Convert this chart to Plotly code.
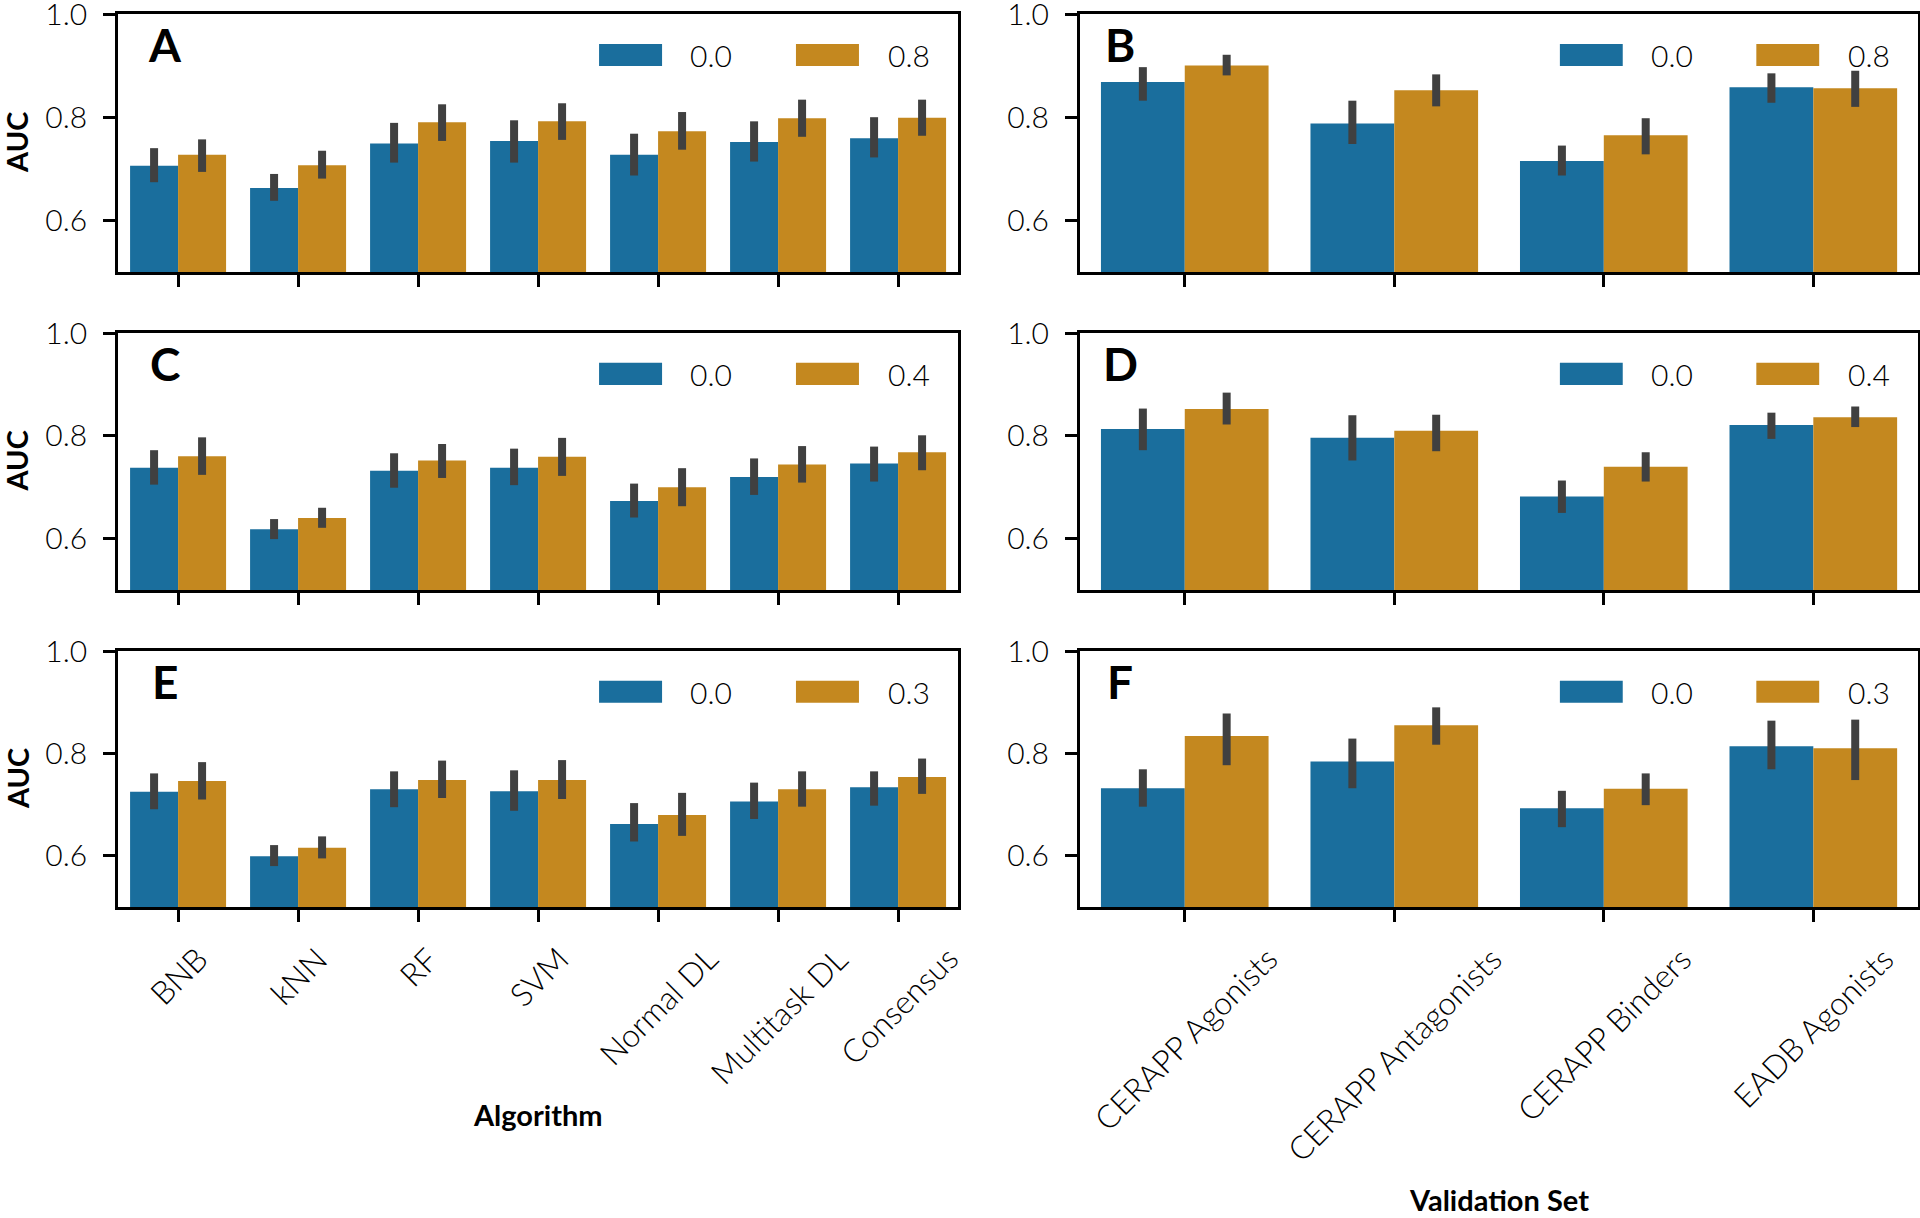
import plotly.graph_objects as go

# ---------------- data ----------------
algorithms = ["BNB", "kNN", "RF", "SVM", "Normal DL", "Multitask DL", "Consensus"]
validation_sets = ["CERAPP Agonists", "CERAPP Antagonists", "CERAPP Binders", "EADB Agonists"]

# Panel A (0.0 vs 0.8) - by algorithm
a_base = [0.706, 0.663, 0.749, 0.754, 0.727, 0.752, 0.759]
a_base_lo = [0.674, 0.638, 0.712, 0.712, 0.687, 0.714, 0.722]
a_base_hi = [0.740, 0.690, 0.789, 0.794, 0.768, 0.792, 0.800]
a_alt = [0.727, 0.707, 0.790, 0.792, 0.773, 0.798, 0.799]
a_alt_lo = [0.694, 0.681, 0.754, 0.756, 0.737, 0.762, 0.764]
a_alt_hi = [0.757, 0.735, 0.825, 0.827, 0.810, 0.834, 0.834]

# Panel B (0.0 vs 0.8) - by validation set
b_base = [0.868, 0.788, 0.715, 0.858]
b_base_lo = [0.832, 0.748, 0.687, 0.828]
b_base_hi = [0.897, 0.832, 0.745, 0.885]
b_alt = [0.900, 0.852, 0.765, 0.856]
b_alt_lo = [0.881, 0.821, 0.728, 0.820]
b_alt_hi = [0.921, 0.883, 0.798, 0.890]

# Panel C (0.0 vs 0.4) - by algorithm
c_base = [0.738, 0.618, 0.732, 0.738, 0.673, 0.720, 0.746]
c_base_lo = [0.705, 0.599, 0.699, 0.704, 0.641, 0.685, 0.711]
c_base_hi = [0.772, 0.638, 0.766, 0.775, 0.707, 0.756, 0.779]
c_alt = [0.760, 0.640, 0.752, 0.759, 0.700, 0.744, 0.768]
c_alt_lo = [0.724, 0.621, 0.718, 0.722, 0.663, 0.709, 0.733]
c_alt_hi = [0.797, 0.660, 0.784, 0.796, 0.737, 0.780, 0.801]

# Panel D (0.0 vs 0.4) - by validation set
d_base = [0.813, 0.796, 0.682, 0.821]
d_base_lo = [0.772, 0.752, 0.650, 0.794]
d_base_hi = [0.853, 0.840, 0.713, 0.845]
d_alt = [0.852, 0.810, 0.740, 0.836]
d_alt_lo = [0.822, 0.770, 0.711, 0.817]
d_alt_hi = [0.884, 0.841, 0.768, 0.857]

# Panel E (0.0 vs 0.3) - by algorithm
e_base = [0.725, 0.599, 0.730, 0.726, 0.662, 0.706, 0.734]
e_base_lo = [0.691, 0.580, 0.695, 0.688, 0.628, 0.672, 0.698]
e_base_hi = [0.761, 0.621, 0.765, 0.767, 0.703, 0.743, 0.765]
e_alt = [0.746, 0.616, 0.748, 0.748, 0.680, 0.730, 0.754]
e_alt_lo = [0.710, 0.595, 0.713, 0.711, 0.639, 0.696, 0.721]
e_alt_hi = [0.783, 0.638, 0.786, 0.787, 0.723, 0.765, 0.790]

# Panel F (0.0 vs 0.3) - by validation set
f_base = [0.732, 0.784, 0.693, 0.814]
f_base_lo = [0.696, 0.732, 0.656, 0.769]
f_base_hi = [0.769, 0.829, 0.727, 0.864]
f_alt = [0.834, 0.855, 0.731, 0.810]
f_alt_lo = [0.777, 0.817, 0.699, 0.748]
f_alt_hi = [0.878, 0.890, 0.761, 0.866]

panel_letters = ["A", "B", "C", "D", "E", "F"]
base_label = "0.0"
alt_labels = ["0.8", "0.8", "0.4", "0.4", "0.3", "0.3"]
y_ticks = [0.6, 0.8, 1.0]
y_tick_text = ["0.6", "0.8", "1.0"]
y_title = "AUC"
x_titles = ["Algorithm", "Validation Set"]

# ---------------- style ----------------
BLUE = "#1A6E9D"
ORANGE = "#C4881F"
ERR = "#404040"
FONT = "Lato"

col_dom = [[0.0615, 0.499], [0.5625, 0.999]]
row_dom = [[0.7767, 0.9885], [0.5156, 0.7266], [0.2553, 0.4655]]

panels = [
    (algorithms, a_base, a_base_lo, a_base_hi, a_alt, a_alt_lo, a_alt_hi),
    (validation_sets, b_base, b_base_lo, b_base_hi, b_alt, b_alt_lo, b_alt_hi),
    (algorithms, c_base, c_base_lo, c_base_hi, c_alt, c_alt_lo, c_alt_hi),
    (validation_sets, d_base, d_base_lo, d_base_hi, d_alt, d_alt_lo, d_alt_hi),
    (algorithms, e_base, e_base_lo, e_base_hi, e_alt, e_alt_lo, e_alt_hi),
    (validation_sets, f_base, f_base_lo, f_base_hi, f_alt, f_alt_lo, f_alt_hi),
]

fig = go.Figure()
layout = dict(
    width=1920, height=1218,
    margin=dict(l=0, r=0, t=0, b=0, autoexpand=False),
    paper_bgcolor="white", plot_bgcolor="white",
    barmode="group", bargap=0.2, bargroupgap=0.0,
    showlegend=False,
    font=dict(family=FONT, color="black"),
)
shapes = []
annotations = []

for i, (cats, bm, blo, bhi, am, alo, ahi) in enumerate(panels):
    r, c = divmod(i, 2)
    n = i + 1
    xa = "x" if n == 1 else f"x{n}"
    ya = "y" if n == 1 else f"y{n}"
    for vals, lo, hi, color in ((bm, blo, bhi, BLUE), (am, alo, ahi, ORANGE)):
        fig.add_trace(go.Bar(
            x=cats, y=vals, marker=dict(color=color, line=dict(width=0)),
            error_y=dict(type="data", symmetric=False,
                         array=[h - v for h, v in zip(hi, vals)],
                         arrayminus=[v - l for v, l in zip(vals, lo)],
                         thickness=8, width=0, color=ERR),
            xaxis=xa, yaxis=ya, showlegend=False,
        ))
    axis_common = dict(showline=True, linewidth=3, linecolor="black", mirror=True,
                       ticks="outside", ticklen=12, tickwidth=2.5, tickcolor="black",
                       showgrid=False, zeroline=False, automargin=False)
    layout["xaxis" if n == 1 else f"xaxis{n}"] = dict(
        domain=col_dom[c], anchor=ya, type="category",
        categoryorder="array", categoryarray=cats,
        range=[-0.5, len(cats) - 0.5], showticklabels=False, **axis_common)
    layout["yaxis" if n == 1 else f"yaxis{n}"] = dict(
        domain=row_dom[r], anchor=xa, range=[0.5, 1.0],
        tickvals=y_ticks, ticktext=y_tick_text, ticklabelstandoff=10,
        ticklabeloverflow="allow",
        tickfont=dict(family=FONT, size=30, color="black", weight=300),
        **axis_common)

    xd = f"{xa} domain"
    yd = f"{ya} domain"
    # panel letter
    annotations.append(dict(text=f"<b>{panel_letters[i]}</b>", xref=xd, yref=yd,
                            x=0.056 if c == 0 else 0.048, y=0.88,
                            xanchor="center", yanchor="middle", showarrow=False,
                            font=dict(family=FONT, size=46, color="black")))
    # legend
    for (x0, x1, tx, color, lab) in ((0.5726, 0.6476, 0.679, BLUE, base_label),
                                     (0.807, 0.882, 0.914, ORANGE, alt_labels[i])):
        shapes.append(dict(type="rect", xref=xd, yref=yd, x0=x0, x1=x1,
                           y0=0.798, y1=0.884, fillcolor=color,
                           line=dict(width=0), layer="above"))
        annotations.append(dict(text=lab, xref=xd, yref=yd, x=tx, y=0.841,
                                xanchor="left", yanchor="middle", showarrow=False,
                                font=dict(family=FONT, size=30, color="black", weight=300)))
    # y title on left column
    if c == 0:
        annotations.append(dict(text=f"<b>{y_title}</b>", xref="paper", yref=yd,
                                x=17 / 1920, y=0.5, xanchor="center", yanchor="middle",
                                textangle=-90, showarrow=False,
                                font=dict(family=FONT, size=29, color="black")))
    # x tick labels on bottom row
    if r == 2:
        for cat in cats:
            annotations.append(dict(text=cat, xref=xa, yref="paper", x=cat,
                                    y=1 - 936 / 1218, xanchor="center", yanchor="top",
                                    textangle=-45, showarrow=False,
                                    font=dict(family=FONT, size=32, color="black", weight=300)))

annotations.append(dict(text=f"<b>{x_titles[0]}</b>", xref="x5 domain", yref="paper",
                        x=0.5, y=1 - 1114 / 1218, xanchor="center", yanchor="middle",
                        showarrow=False, font=dict(family=FONT, size=29, color="black")))
annotations.append(dict(text=f"<b>{x_titles[1]}</b>", xref="x6 domain", yref="paper",
                        x=0.5, y=1 - 1199 / 1218, xanchor="center", yanchor="middle",
                        showarrow=False, font=dict(family=FONT, size=29, color="black")))

layout["shapes"] = shapes
layout["annotations"] = annotations
fig.update_layout(**layout)
fig.write_html(
    "out.html",
    config={"displayModeBar": False},
    post_script="document.body.style.margin='0';document.body.style.padding='0';"
                "document.body.style.overflow='hidden';",
)
